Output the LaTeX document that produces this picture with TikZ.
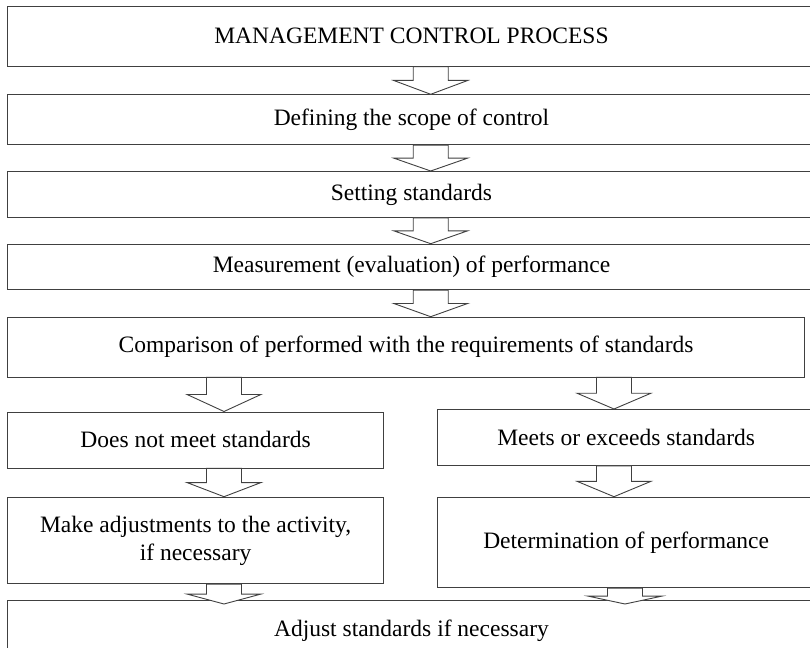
\documentclass[tikz,border=0pt]{standalone}
\usepackage{fontspec}
\setmainfont{Liberation Serif}
\usetikzlibrary{calc}

\tikzset{
  box/.style={draw=black!75, line width=0.9pt, anchor=north west,
    align=center, inner sep=0pt, font=\fontsize{23.5}{28}\selectfont},
  hollow/.style={draw=black!75, line width=0.9pt, fill=white}
}

% hollow block arrow: [tip depth] {x coordinate} {from node} {to node}
\newcommand{\flowarrow}[4][0]{%
  \draw[hollow] let \p1 = (#2 |- #3.south),
    \p2 = ($(#2 |- #4.north)+(0,#1)$),
    \p3 = ($(\p1)!0.5!(\p2)$) in
    (\x1-17.5pt,\y1) -- (\x1-17.5pt,\y3) -- (\x1-37pt,\y3) -- (\p2)
    -- (\x1+37pt,\y3) -- (\x1+17.5pt,\y3) -- (\x1+17.5pt,\y1) -- cycle;}

\begin{document}
\begin{tikzpicture}[x=1pt, y=-1pt]

  \useasboundingbox (0,0) rectangle (810,647);
  \clip (0,0) rectangle (810,647);

  % Main column
  \node[box, minimum width=808, minimum height=60] (title) at (7,5.7)
    {MANAGEMENT CONTROL PROCESS};
  \node[box, minimum width=808, minimum height=50] (scope) at (7,94.3)
    {Defining the scope of control};
  \node[box, minimum width=808, minimum height=46] (setstd) at (7,171)
    {Setting standards};
  \node[box, minimum width=808, minimum height=45.6] (measure) at (7,243.7)
    {Measurement (evaluation) of performance};
  \node[box, minimum width=797.3, minimum height=59.8] (compare) at (7,316.7)
    {Comparison of performed with the requirements of standards};

  % Two branches
  \node[box, minimum width=376.3, minimum height=56] (nomeet) at (7,411.5)
    {Does not meet standards};
  \node[box, minimum width=378, minimum height=56] (meets) at (436.7,409)
    {Meets or exceeds standards};
  \node[box, minimum width=376.3, minimum height=86.5] (adjact) at (7,496.7)
    {Make adjustments to the activity,\\ if necessary};
  \node[box, minimum width=378, minimum height=90.6] (perform) at (436.7,496.7)
    {Determination of performance};

  % Bottom box
  \node[box, minimum width=808, minimum height=60] (adjstd) at (7,600)
    {Adjust standards if necessary};

  % Arrow positions
  \coordinate (colM) at (430.7,0);
  \coordinate (colL) at (224,0);
  \coordinate (colR) at (614,0);
  \coordinate (colR2) at (625,0);

  % Arrows
  \flowarrow{colM}{title}{scope}
  \flowarrow{colM}{scope}{setstd}
  \flowarrow{colM}{setstd}{measure}
  \flowarrow{colM}{measure}{compare}
  \flowarrow{colL}{compare}{nomeet}
  \flowarrow{colR}{compare}{meets}
  \flowarrow{colL}{nomeet}{adjact}
  \flowarrow{colR}{meets}{perform}
  \flowarrow[4]{colL}{adjact}{adjstd}
  \flowarrow[4]{colR2}{perform}{adjstd}

\end{tikzpicture}
\end{document}
